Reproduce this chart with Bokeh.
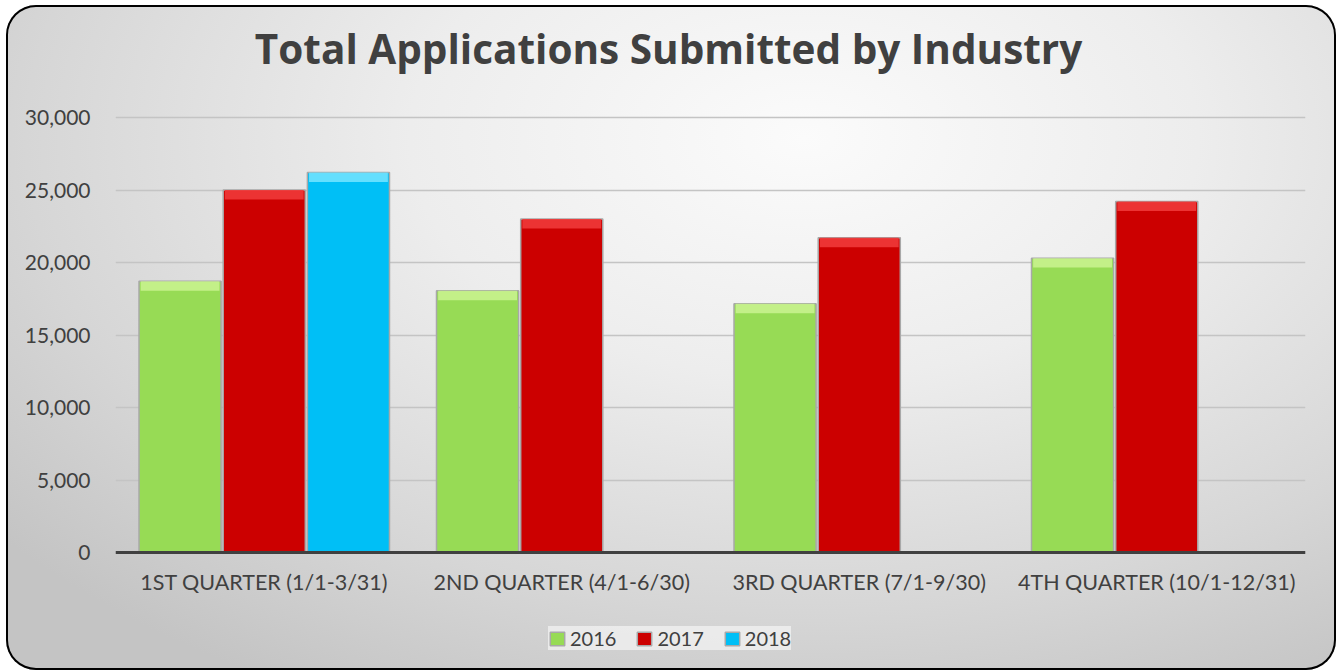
from bokeh.plotting import figure
from bokeh.models import (ColumnDataSource, FactorRange, Range1d, NumeralTickFormatter,
                          Legend, LegendItem, Label, FixedTicker)
from bokeh.transform import dodge
from bokeh.embed import file_html
from bokeh.resources import INLINE

# ---- data ----
title_text = "Total Applications Submitted by Industry"
quarters = ["1ST QUARTER (1/1-3/31)", "2ND QUARTER (4/1-6/30)",
            "3RD QUARTER (7/1-9/30)", "4TH QUARTER (10/1-12/31)"]
years = ["2016", "2017", "2018"]
v2016 = [18700, 18050, 17150, 20300]
v2017 = [25000, 23000, 21700, 24200]
v2018 = [26200, float("nan"), float("nan"), float("nan")]
y_ticks = [0, 5000, 10000, 15000, 20000, 25000, 30000]

FONT = "Lato"
TITLE_FONT = "Open Sans"
fill_colors = ["#97DB55", "#CC0000", "#00BFF6"]
top_colors = ["#C8F28E", "#F03838", "#6FE2FF"]
offsets = [-0.283, 0.0, 0.283]
BAR_W = 0.276
BEVEL = 650

W, H = 1330, 665
# frame spans the full height; 435 px hold 0..30000
PX_PER_UNIT = 435 / 30000
Y_MAX = 30000 + 112 / PX_PER_UNIT
Y_MIN = -118 / PX_PER_UNIT

p = figure(width=W, height=H,
           x_range=FactorRange(*quarters, range_padding=0),
           y_range=Range1d(Y_MIN, Y_MAX),
           output_backend="svg", toolbar_location=None,
           min_border_left=109, min_border_right=31,
           min_border_top=0, min_border_bottom=0,
           border_fill_alpha=0, background_fill_alpha=0,
           outline_line_color=None,
           styles={
               "margin-left": "6px",
               "margin-top": "5px",
               "background": "radial-gradient(ellipse 78% 95% at 60% 20%, #fbfbfb 0%, #ededed 38%, #d6d6d6 75%, #c4c4c4 100%)",
               "border-radius": "30px",
               "box-shadow": "inset 0 0 0 2px #000000",
           })

src = ColumnDataSource(dict(q=quarters, v2016=v2016, v2017=v2017, v2018=v2018,
                            b2016=[v - BEVEL for v in v2016],
                            b2017=[v - BEVEL for v in v2017],
                            b2018=[v - BEVEL for v in v2018]))

items = []
for yr, col, tcol, off in zip(years, fill_colors, top_colors, offsets):
    r = p.vbar(x=dodge("q", off, range=p.x_range), top="v" + yr, bottom=0, width=BAR_W,
               source=src, fill_color=col, line_color="#A8A8A8", line_width=1.5)
    p.vbar(x=dodge("q", off, range=p.x_range), top="v" + yr, bottom="b" + yr,
           width=BAR_W * 0.96, source=src, fill_color=tcol, line_color=None, fill_alpha=0.9)
    items.append(LegendItem(label=yr, renderers=[r]))

# title (placed in the upper part of the frame, above the 30,000 line)
p.add_layout(Label(x=1.859, y=30000 + 69 / PX_PER_UNIT, text=title_text,
                   text_align="center", text_baseline="alphabetic",
                   text_font=TITLE_FONT, text_font_size="40.5px", text_font_style="bold",
                   text_color="#404040"))

# axes
p.yaxis.ticker = FixedTicker(ticks=y_ticks)
p.yaxis.formatter = NumeralTickFormatter(format="0,0")
p.yaxis.axis_line_color = None
p.yaxis.major_tick_line_color = None
p.yaxis.minor_tick_line_color = None
p.yaxis.major_label_standoff = 19
p.yaxis.major_label_text_font = FONT
p.yaxis.major_label_text_font_size = "21px"
p.yaxis.major_label_text_color = "#404040"

p.xaxis.fixed_location = 0
p.xaxis.axis_line_color = "#404040"
p.xaxis.axis_line_width = 3
p.xaxis.major_tick_line_color = None
p.xaxis.minor_tick_line_color = None
p.xaxis.major_label_standoff = 10
p.xaxis.major_label_text_font = FONT
p.xaxis.major_label_text_font_size = "21.5px"
p.xaxis.major_label_text_color = "#404040"

p.xgrid.grid_line_color = None
p.ygrid.grid_line_color = "#C4C4C4"
p.ygrid.grid_line_width = 1.5

legend = Legend(items=items, orientation="horizontal", location=(433, 20),
                label_text_font=FONT, label_text_font_size="20px", label_text_color="#404040",
                glyph_width=18, glyph_height=17, spacing=19, padding=14,
                background_fill_color="#EEEEEE", background_fill_alpha=0.85,
                border_line_color=None, margin=0, label_standoff=4)
p.add_layout(legend)

open("out.html", "w").write(file_html(p, INLINE))
